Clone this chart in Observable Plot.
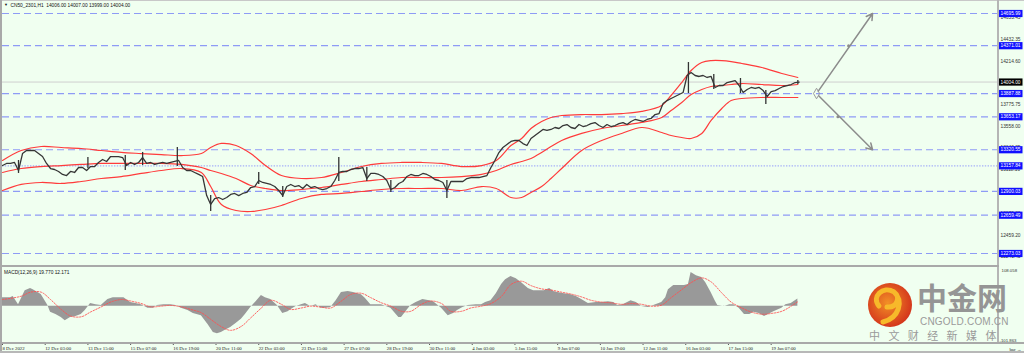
<!DOCTYPE html>
<html><head><meta charset="utf-8">
<script src="https://cdn.jsdelivr.net/npm/d3@7"></script>
<script src="https://cdn.jsdelivr.net/npm/@observablehq/plot@0.6"></script>
<style>
html,body{margin:0;padding:0}
body{background:#f0fff0;width:1024px;height:353px;overflow:hidden;position:relative;font-family:"Liberation Sans",Arial,sans-serif;}
#main,#macd{position:absolute;left:0}
#main{top:0}
#macd{top:266px}
.ln{position:absolute;background:#a9a9a9}
#logo{position:absolute;left:0;top:0;width:1024px;height:353px;pointer-events:none}
.lt{position:absolute;color:#9a9a9a;white-space:nowrap}
</style></head><body>
<div id="main"></div><div id="macd"></div>
<div class="ln" style="left:0;top:0;width:1024px;height:1px;background:#c8c8c8"></div>
<div class="ln" style="left:0;top:0;width:2px;height:353px"></div>
<div class="ln" style="left:997px;top:0;width:2px;height:344px;background:#b5b5b5"></div>
<div class="ln" style="left:0;top:265px;width:999px;height:2px"></div>
<div class="ln" style="left:0;top:342px;width:1024px;height:2px"></div>
<div class="ln" style="left:0;top:351px;width:1024px;height:2px;background:#b8b8b8"></div>
<div id="logo">
<svg width="1024" height="353" style="position:absolute;left:0;top:0">
<defs><radialGradient id="g" cx="0.45" cy="0.45" r="0.6"><stop offset="0" stop-color="#f29026"/><stop offset="1" stop-color="#d22f1b"/></radialGradient></defs>
<circle cx="890" cy="305" r="22" fill="url(#g)"/>
<path d="M879 306 C871 297 883 285 894 292 C901 297 897 308 887 307 M894 292 C904 301 899 318 883 322" fill="none" stroke="#f7b92a" stroke-width="5" stroke-linecap="round"/>
</svg>
<div class="lt" style="left:917px;top:279px;font-family:'Noto Sans CJK SC';font-weight:700;font-size:30px;line-height:34px;color:#959595">中金网</div>
<div class="lt" style="left:920px;top:316px;font-family:'Liberation Sans';font-size:10px;line-height:12px;letter-spacing:0.2px">CNGOLD.COM.CN</div>
<div class="lt" style="left:869px;top:329px;font-family:'Noto Sans CJK SC';font-size:11px;line-height:12px;letter-spacing:8.4px">中文财经新媒<span style="letter-spacing:0">体</span></div>
</div>
<script>
// ---------- data ----------
const header = "CN50_2301,H1  14006.00 14007.00 13999.00 14004.00";
const macdLabel = "MACD(12,26,9) 19.770 12.171";
// hourly closes sampled every 3 bars
const closes = [13161,13182,13182,13192,13111,13282,13313,13313,13313,13282,
13252,13182,13131,13121,13101,13071,13060,13101,13091,13141,
13141,13111,13151,13151,13192,13222,13202,13252,13252,13252,
13242,13161,13192,13172,13192,13242,13182,13192,13172,13182,
13192,13182,13192,13202,13212,13141,13111,13111,13091,13071,
13050,12858,12768,12828,12838,12818,12838,12869,12879,12858,
12879,12889,12939,12949,13010,12990,12980,12970,12949,12909,
12858,12949,12970,12949,12959,12929,12970,12939,12949,12929,
12919,12929,12949,13010,13091,13101,13101,13121,13131,13131,
13141,13030,13081,13081,13071,13050,13010,12919,12939,12980,
13000,13050,13071,13060,13060,13081,13071,13050,13020,13010,
12990,12909,13000,13000,13000,13000,13030,13040,13040,13040,
13050,13060,13141,13212,13292,13343,13373,13404,13414,13414,
13383,13363,13434,13464,13494,13525,13515,13525,13545,13535,
13565,13575,13545,13535,13575,13555,13565,13585,13595,13565,
13545,13575,13555,13565,13585,13595,13575,13606,13626,13616,
13606,13626,13636,13676,13686,13787,13817,13838,13858,13878,
13898,14070,14100,14070,14060,14070,14050,14060,13949,13969,
13969,13999,14009,14019,13969,13898,13929,13949,13939,13949,
13918,13858,13908,13918,13939,13959,13969,13979,13999,14004];
const closeStep = 3;
const wickBars = [12,64,92,105,131,156,192,210,252,273,291,333,514,533,553,572,596];
const wickHigh = [13212,13242,13262,13293,13343,12858,13091,12949,13242,13141,13010,13010,14201,14080,14040,13918,14019];
const wickLow  = [13081,13131,13111,13161,13151,12697,12970,12838,13000,13000,12889,12828,13888,13929,13888,13777,13979];
// Bollinger bands
const bandBars = [0,14,29,44,59,74,89,104,119,134,149,156,164,175,186,197,209,224,239,254,269,284,299,314,329,344,359,370,381,389,396,404,411,419,434,449,464,479,494,501,509,516,524,531,539,546,554,569,584,596];
const bandUpper = [13212,13313,13353,13343,13333,13313,13293,13282,13272,13262,13282,13343,13384,13363,13282,13161,13060,13030,13040,13091,13151,13182,13192,13192,13182,13151,13161,13212,13363,13434,13535,13606,13646,13666,13676,13676,13686,13707,13767,13868,13999,14120,14201,14221,14221,14211,14191,14151,14090,14050];
const bandMiddle = [13091,13131,13151,13161,13172,13182,13182,13182,13182,13172,13141,13111,13081,13030,12960,12929,12909,12919,12939,12970,13000,13020,13040,13040,13040,13050,13071,13111,13172,13202,13232,13293,13353,13414,13485,13535,13565,13596,13646,13717,13797,13878,13929,13959,13969,13979,13989,13979,13969,13979];
const bandLower = [12909,12970,12990,12980,13000,13030,13050,13081,13111,13131,13091,12949,12768,12707,12697,12717,12758,12828,12869,12879,12899,12919,12929,12929,12929,12909,12949,12929,12838,12838,12889,12949,13030,13131,13313,13414,13485,13545,13495,13464,13444,13434,13485,13616,13737,13818,13838,13848,13848,13848];
// horizontal levels
const dashedLevels = [14695.99,14371.01,13887.88,13653.17,13320.55,12900.03,12659.49,12273.03];
const dottedLevels = [13157.84];
const currentPrice = 14004.00;
const priceTicks = [14653.45,14432.35,14214.60,13996.85,13775.75,13558.00,13340.25,13118.10,12900.35,12679.30,12459.20,12241.45];
// projection arrows
const projStartBar = 610, projEndBar = 652;
const projStart = 13887.88;
const projTargets = [14695.99, 13320.55];
const projMidBars = [634, 626];
const projMid = [14371.01, 13653.17];
// MACD
const histBars = [0,6,8,12,17,21,23,29,34,36,40,44,47,51,55,59,62,66,70,74,79,83,86,91,96,100,104,109,113,116,121,126,130,134,139,143,149,154,158,161,164,167,171,175,179,182,186,190,194,197,201,206,210,214,216,220,224,227,231,235,239,242,246,250,254,259,263,269,272,276,284,291,297,299,302,306,310,315,320,323,329,334,338,341,345,349,355,359,362,366,370,374,377,381,385,389,394,398,401,406,410,413,416,421,426,430,434,439,445,449,454,458,461,465,471,475,479,484,488,494,497,499,503,506,511,514,516,520,524,527,531,534,536,541,545,548,552,556,560,563,567,571,574,578,584,587,591,596];
const histValues = [23,23,26,4,42,48,45,32,2,-17,-23,-31,-40,-31,-28,-23,-12,7,4,2,18,23,23,23,10,7,4,-6,-6,2,4,4,2,-6,-12,-20,-26,-50,-72,-75,-72,-66,-58,-47,-36,-23,-4,12,29,23,18,2,-20,-15,-10,-1,4,7,-1,4,-6,-6,-4,15,37,40,37,31,21,4,4,-6,-31,-31,-17,2,10,18,15,12,-6,-26,-20,-12,-4,2,4,4,10,15,34,59,72,81,75,64,48,42,42,42,48,40,37,34,31,26,18,7,10,10,12,10,2,4,15,10,-1,-4,2,10,23,45,56,56,56,59,92,83,78,64,37,15,2,-1,4,4,-6,-23,-23,-17,-20,-28,-23,-15,-6,4,7,19.77];
const sigBars = [0,14,21,29,36,44,51,59,66,74,81,89,96,104,111,119,126,134,141,149,156,164,171,179,186,194,201,209,216,224,231,239,246,254,261,269,276,284,291,299,306,314,321,329,336,344,351,359,366,374,381,389,396,404,411,419,426,434,441,449,456,464,471,479,486,494,501,509,516,524,531,539,546,554,561,569,576,584,591,596];
const sigValues = [18,27,38,38,18,-9,-27,-29,-16,-2,11,18,14,7,-2,0,2,-2,-9,-18,-36,-56,-66,-55,-32,-5,16,5,-9,-5,0,-3,-5,14,32,35,23,9,0,-14,-14,5,14,7,-14,-14,-5,0,7,27,59,68,56,47,44,38,33,25,16,11,9,5,7,5,0,3,23,45,64,77,66,36,11,-5,-16,-22,-20,-14,0,12.171];
const macdMax = 108.058, macdMin = -101.863;
const tickBars = [0,32,64,96,128,160,192,224,256,288,320,352,384,416,448,480,512,544,576];
const tickLabels = ["8 Dec 2022","12 Dec 03:00","13 Dec 15:00","15 Dec 07:00","16 Dec 19:00","20 Dec 11:00","22 Dec 03:00","23 Dec 15:00","27 Dec 07:00","28 Dec 19:00","30 Dec 11:00","4 Jan 03:00","5 Jan 15:00","9 Jan 07:00","10 Jan 19:00","12 Jan 11:00","16 Jan 03:00","17 Jan 15:00","19 Jan 07:00"];

// ---------- build ----------
const xDomain = [0, 745.6];
const yDomain = [12141.7, 14827.24];
const closeData = closes.map((c, i) => ({bar: i * closeStep, close: c}));
const wicks = wickBars.map((b, i) => ({bar: b, hi: wickHigh[i], lo: wickLow[i]}));
const bands = bandBars.map((b, i) => ({bar: b, up: bandUpper[i], mid: bandMiddle[i], lo: bandLower[i]}));
const proj = projTargets.map((t) => ({b0: projStartBar, p0: projStart, b1: projEndBar, p1: t}));
const mids = projMidBars.map((b, i) => ({bar: b, p: projMid[i]}));
const hist = histBars.map((b, i) => ({bar: b, v: histValues[i]}));
const sig = sigBars.map((b, i) => ({bar: b, v: sigValues[i]}));
const boxSym = {draw(ctx) { ctx.moveTo(-12, -3.6); ctx.lineTo(12, -3.6); ctx.lineTo(12, 3.6); ctx.lineTo(-12, 3.6); ctx.closePath(); }};
const fs = 4.8;
const font = "'Liberation Sans', Arial, sans-serif";

const main = Plot.plot({
  width: 1024, height: 266,
  marginLeft: 2, marginRight: 27, marginTop: 0, marginBottom: 0,
  x: {domain: xDomain, axis: null},
  y: {domain: yDomain, axis: null},
  style: {background: "transparent", overflow: "visible", fontFamily: font},
  marks: [
    Plot.ruleY([currentPrice], {stroke: "#cfcfcf", strokeWidth: 1}),
    Plot.ruleY(dashedLevels, {stroke: "#8e9bf5", strokeWidth: 1.2, strokeDasharray: "7,4"}),
    Plot.ruleY(dottedLevels, {stroke: "#a6b0f7", strokeWidth: 1.2, strokeDasharray: "1.4,1.4"}),
    Plot.line(bands, {x: "bar", y: "up", stroke: "#ff3b3b", strokeWidth: 1.2, curve: "catmull-rom"}),
    Plot.line(bands, {x: "bar", y: "mid", stroke: "#ff3b3b", strokeWidth: 1.2, curve: "catmull-rom"}),
    Plot.line(bands, {x: "bar", y: "lo", stroke: "#ff3b3b", strokeWidth: 1.2, curve: "catmull-rom"}),
    Plot.ruleX(wicks, {x: "bar", y1: "lo", y2: "hi", stroke: "#333", strokeWidth: 1.3}),
    Plot.line(closeData, {x: "bar", y: "close", stroke: "#363636", strokeWidth: 1.3}),
    Plot.arrow(proj, {x1: "b0", y1: "p0", x2: "b1", y2: "p1", stroke: "#8c8c8c", strokeWidth: 1.5, headLength: 7, insetStart: 3}),
    Plot.dot(mids, {x: "bar", y: "p", r: 1.5, fill: "#8c8c8c"}),
    Plot.dot([{bar: projStartBar, p: projStart}], {x: "bar", y: "p", symbol: "diamond", r: 3.2, stroke: "#9a9a9a", strokeWidth: 1, fill: "none"}),
    Plot.text([header], {frameAnchor: "top-left", dx: 8, dy: 3, text: d => d, fontSize: fs, fill: "#111", textAnchor: "start", lineAnchor: "top"}),
    Plot.text(["▼"], {frameAnchor: "top-left", dx: 1.5, dy: 3, text: d => d, fontSize: 4, fill: "#111", textAnchor: "start", lineAnchor: "top"}),
    Plot.text(priceTicks, {y: d => d, text: d => d.toFixed(2), frameAnchor: "right", dx: 3, textAnchor: "start", fontSize: fs, fill: "#333"}),
    Plot.dot(dashedLevels.concat(dottedLevels), {y: d => d, frameAnchor: "right", dx: 13, symbol: boxSym, fill: "#1010ff"}),
    Plot.text(dashedLevels.concat(dottedLevels), {y: d => d, text: d => d.toFixed(2), frameAnchor: "right", dx: 13, textAnchor: "middle", fontSize: fs, fill: "white"}),
    Plot.dot([currentPrice], {y: d => d, frameAnchor: "right", dx: 13, symbol: boxSym, fill: "#000"}),
    Plot.text([currentPrice], {y: d => d, text: d => d.toFixed(2), frameAnchor: "right", dx: 13, textAnchor: "middle", fontSize: fs, fill: "white"})
  ]
});
document.getElementById("main").append(main);

const macd = Plot.plot({
  width: 1024, height: 87,
  marginLeft: 2, marginRight: 27, marginTop: 0, marginBottom: 10,
  x: {domain: xDomain},
  y: {domain: [macdMin, macdMax], axis: null},
  style: {background: "transparent", overflow: "visible", fontFamily: font},
  marks: [
    Plot.areaY(hist, {x: "bar", y: "v", fill: "#999999"}),
    Plot.line(sig, {x: "bar", y: "v", stroke: "#ff5050", strokeWidth: 0.9, strokeDasharray: "1.5,1.5", curve: "catmull-rom"}),
    Plot.axisX(tickBars, {anchor: "bottom", tickSize: 2, tickPadding: 1.5, textAnchor: "start", fontSize: fs, fill: "#222", stroke: "#555",
      tickFormat: d => tickLabels[tickBars.indexOf(d)], fontFamily: "'Liberation Serif', serif"}),
    Plot.text([macdLabel], {frameAnchor: "top-left", dx: 1.5, dy: 4, text: d => d, fontSize: fs, fill: "#111", textAnchor: "start", lineAnchor: "top"}),
    Plot.text(["108.058"], {frameAnchor: "top-right", dx: 4, dy: 4, text: d => d, fontSize: 4.3, fill: "#333", textAnchor: "start", lineAnchor: "middle"}),
    Plot.text(["-101.863"], {frameAnchor: "bottom-right", dx: 2, dy: -3, text: d => d, fontSize: 4.3, fill: "#333", textAnchor: "start", lineAnchor: "middle"})
  ]
});
document.getElementById("macd").append(macd);
</script>
</body></html>
